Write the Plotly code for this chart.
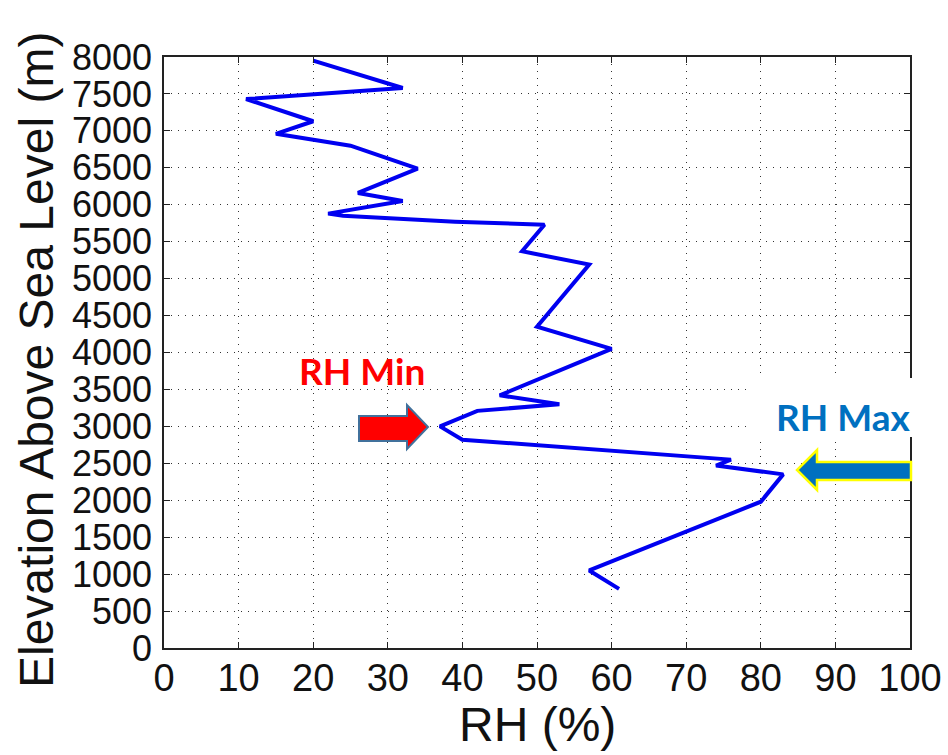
import plotly.graph_objects as go

# Data
rh = [20, 32, 11, 20, 15, 25, 34, 26, 32, 22, 24, 39, 51, 48, 57, 50, 60, 45, 53, 42, 37, 40, 76, 74, 83, 80, 57, 61]
elev = [7950, 7580, 7430, 7130, 6960, 6800, 6490, 6160, 6050, 5880, 5850, 5770, 5730, 5370, 5190,
        4350, 4050, 3420, 3300, 3210, 3000, 2820, 2550, 2470, 2350, 1980, 1050, 800]
x_ticks = list(range(0, 101, 10))
y_ticks = list(range(0, 8001, 500))

W, H = 948, 755
L, R, T, B = 164, 910, 57, 648  # plot area in pixels


def px(x, y):
    return ((x - L) / (R - L), (B - y) / (B - T))


def path(points):
    s = ""
    for i, (x, y) in enumerate(points):
        xp, yp = px(x, y)
        s += ("M" if i == 0 else "L") + f"{xp:.5f},{yp:.5f} "
    return s + "Z"


fig = go.Figure()
fig.add_trace(go.Scatter(x=rh, y=elev, mode="lines",
                         line=dict(color="#0000F0", width=4), showlegend=False, hoverinfo="skip"))

axis_common = dict(showline=True, linecolor="#222", linewidth=1.5, mirror="ticks",
                   ticks="inside", ticklen=6, tickwidth=1.3, tickcolor="#222",
                   showgrid=True, gridcolor="#333", gridwidth=1.2, griddash="1px,6px",
                   zeroline=False, automargin=False)

fig.update_xaxes(range=[0, 100], tickvals=x_ticks, ticktext=[str(v) for v in x_ticks],
                 tickfont=dict(family="Liberation Sans, Arial", size=38, color="#111"),
                 ticklabelstandoff=-4, **axis_common)
fig.update_yaxes(range=[0, 8000], tickvals=y_ticks, ticktext=[str(v) for v in y_ticks],
                 tickfont=dict(family="Liberation Sans, Arial", size=36, color="#111"),
                 ticklabelstandoff=3, **axis_common)

shapes = []
# white box behind "RH Max"
x0, y0 = px(752, 437)
x1, y1 = px(948, 378)
shapes.append(dict(type="rect", xref="paper", yref="paper", x0=x0, y0=y0, x1=x1, y1=y1,
                   fillcolor="white", line=dict(width=0), layer="above"))
# red arrow (RH Min)
red_pts = [(359, 416), (407, 416), (407, 405), (428, 427), (407, 449), (407, 441), (359, 441)]
shapes.append(dict(type="path", xref="paper", yref="paper", path=path(red_pts),
                   fillcolor="#FF0000", line=dict(color="#41719C", width=2), layer="above"))
# blue arrow (RH Max)
blue_pts = [(911, 462), (817, 462), (817, 450), (797, 470), (817, 490), (817, 480), (911, 480)]
shapes.append(dict(type="path", xref="paper", yref="paper", path=path(blue_pts),
                   fillcolor="#0070C0", line=dict(color="#FFFF00", width=2.5), layer="above"))

annotations = []
ax, ay = px(362, 370)
annotations.append(dict(xref="paper", yref="paper", x=ax, y=ay, text="<b>RH Min</b>", showarrow=False,
                        font=dict(family="Lato, Open Sans", size=37, color="#FF0000"),
                        xanchor="center", yanchor="middle"))
ax, ay = px(843, 416)
annotations.append(dict(xref="paper", yref="paper", x=ax, y=ay, text="<b>RH Max</b>", showarrow=False,
                        font=dict(family="Lato, Open Sans", size=37, color="#0070C0"),
                        xanchor="center", yanchor="middle"))
# axis titles
ax, ay = px(537, 724)
annotations.append(dict(xref="paper", yref="paper", x=ax, y=ay, text="RH (%)", showarrow=False,
                        font=dict(family="Liberation Sans, Arial", size=48, color="#111"),
                        xanchor="center", yanchor="middle"))
ax, ay = px(36, 360)
annotations.append(dict(xref="paper", yref="paper", x=ax, y=ay, text="Elevation Above Sea Level (m)",
                        showarrow=False, textangle=-90,
                        font=dict(family="Liberation Sans, Arial", size=48, color="#111"),
                        xanchor="center", yanchor="middle"))

fig.update_layout(width=W, height=H, margin=dict(l=L, r=W - R, t=T, b=H - B, autoexpand=False),
                  paper_bgcolor="white", plot_bgcolor="white",
                  shapes=shapes, annotations=annotations)

fig.write_html("out.html", config={"displayModeBar": False},
               post_script="document.body.style.margin='0';document.body.style.padding='0';"
                           "document.body.style.overflow='hidden';")
